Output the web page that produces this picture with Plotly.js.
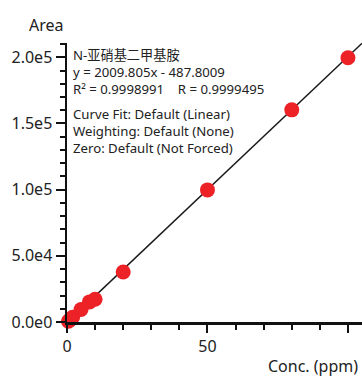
<!DOCTYPE html>
<html><head><meta charset="utf-8">
<script src="https://cdn.plot.ly/plotly-3.0.1.min.js"></script>
<style>html,body{margin:0;padding:0;background:#fff;}#chart{width:362px;height:377px;}</style>
</head><body><div id="chart"></div>
<script>
const conc = [0.5, 1, 2, 5, 8, 10, 20, 50, 80, 100];
const area = [600, 1500, 3600, 9500, 15200, 17200, 37800, 99800, 160300, 199600];
const slope = 2009.805;
const intercept = -487.8009;
const yTickVals = [0, 50000, 100000, 150000, 200000];
const yTickText = ["0.0e0", "5.0e4", "1.0e5", "1.5e5", "2.0e5"];
const xTickVals = [0, 50, 100];
const xTickText = ["0", "50", ""];
const infoLines1 = ["N-亚硝基二甲基胺", "y = 2009.805x - 487.8009", "R² = 0.9998991    R = 0.9999495"];
const infoLines2 = ["Curve Fit: Default (Linear)", "Weighting: Default (None)", "Zero: Default (Not Forced)"];

const xMax = 105;
const fitX = [0, xMax];
const fitY = fitX.map(x => slope * x + intercept);
const font = '"Noto Sans", "Noto Sans CJK SC", sans-serif';

const traces = [
  {x: fitX, y: fitY, mode: 'lines', line: {color: '#1a1a1a', width: 1.5}, hoverinfo: 'skip', cliponaxis: true},
  {x: conc, y: area, mode: 'markers', marker: {color: '#ec2227', size: 15}, cliponaxis: false}
];
const layout = {
  width: 362, height: 377,
  margin: {l: 67, r: 0, t: 43, b: 55},
  showlegend: false,
  paper_bgcolor: '#fff', plot_bgcolor: '#fff',
  font: {family: font, color: '#222'},
  xaxis: {range: [0, xMax], showgrid: false, zeroline: false, showline: true, linecolor: '#111', linewidth: 2.5,
    ticks: 'outside', ticklen: 8, tickwidth: 2, tickcolor: '#111', tickvals: xTickVals, ticktext: xTickText,
    tickfont: {size: 16, family: font, color: '#222'},
    minor: {dtick: 10, tick0: 0, ticks: 'outside', ticklen: 5, tickwidth: 2, tickcolor: '#111'}},
  yaxis: {range: [0, 210800], showgrid: false, zeroline: false, showline: true, linecolor: '#111', linewidth: 2.5,
    ticks: 'outside', ticklen: 9, tickwidth: 2, tickcolor: '#111', tickvals: yTickVals, ticktext: yTickText,
    tickfont: {size: 16, family: font, color: '#222'},
    minor: {dtick: 10000, tick0: 0, ticks: 'outside', ticklen: 5, tickwidth: 2, tickcolor: '#111'}},
  annotations: [
    {text: 'Area', xref: 'paper', yref: 'paper', x: -0.068, y: 1.064, xanchor: 'center', yanchor: 'middle', showarrow: false, font: {size: 16, family: font, color: '#222'}},
    {text: 'Conc. (ppm)', xref: 'paper', yref: 'paper', x: 0.993, y: -0.158, xanchor: 'right', yanchor: 'middle', showarrow: false, font: {size: 16, family: font, color: '#222'}},
    {text: infoLines1.join('<br>'), xref: 'paper', yref: 'paper', x: 0.012, y: 0.997, xanchor: 'left', yanchor: 'top', align: 'left', showarrow: false, font: {size: 13.2, family: font, color: '#222'}},
    {text: infoLines2.join('<br>'), xref: 'paper', yref: 'paper', x: 0.012, y: 0.785, xanchor: 'left', yanchor: 'top', align: 'left', showarrow: false, font: {size: 13.2, family: font, color: '#222'}}
  ]
};
Plotly.newPlot('chart', traces, layout, {displayModeBar: false, staticPlot: true});
</script></body></html>
